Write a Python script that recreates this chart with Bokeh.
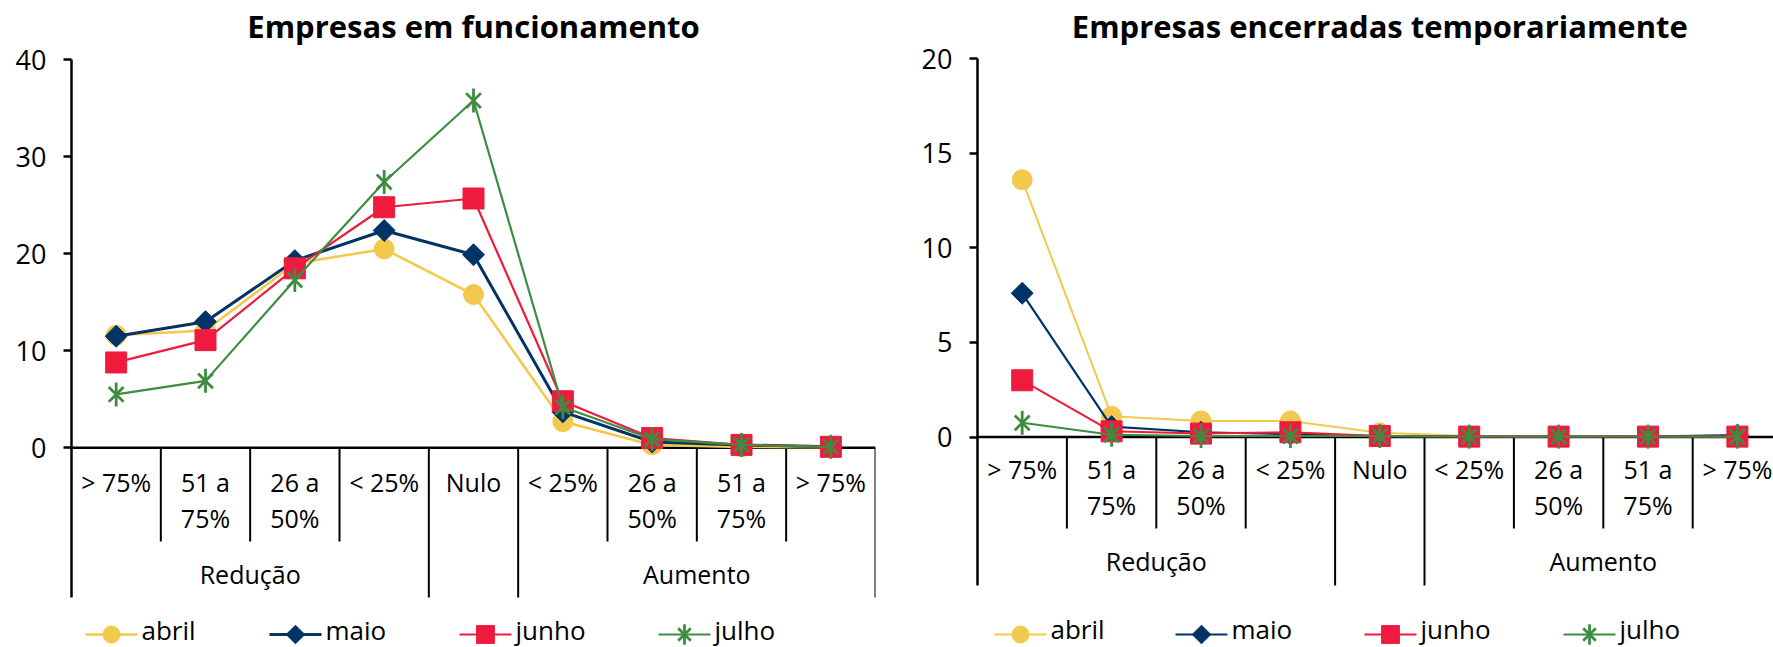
import math

from bokeh.core.properties import value
from bokeh.embed import file_html
from bokeh.layouts import row
from bokeh.models import FixedTicker, Range1d
from bokeh.plotting import figure
from bokeh.resources import INLINE

# ---------------------------------------------------------------- data
cat_line1 = ["> 75%", "51 a", "26 a", "< 25%", "Nulo", "< 25%", "26 a", "51 a", "> 75%"]
cat_line2 = ["", "75%", "50%", "", "", "", "50%", "75%", ""]
group_labels = ["Redução", "", "Aumento"]
group_edges = [0, 4, 5, 9]          # category index where each group starts / ends

months = ["abril", "maio", "junho", "julho"]

# Empresas em funcionamento (%)
func_abril = [11.6, 12.1, 19.0, 20.5, 15.8, 2.7, 0.3, 0.1, 0.05]
func_maio = [11.5, 13.0, 19.3, 22.4, 19.9, 3.7, 0.6, 0.3, 0.1]
func_junho = [8.8, 11.1, 18.5, 24.8, 25.7, 4.8, 1.0, 0.3, 0.1]
func_julho = [5.5, 6.9, 17.3, 27.4, 35.8, 4.2, 0.9, 0.3, 0.1]

# Empresas encerradas temporariamente (%)
enc_abril = [13.6, 1.1, 0.85, 0.85, 0.22, 0.05, 0.02, 0.05, 0.02]
enc_maio = [7.6, 0.55, 0.25, 0.15, 0.05, 0.02, 0.02, 0.02, 0.1]
enc_junho = [3.0, 0.3, 0.18, 0.25, 0.05, 0.02, 0.02, 0.02, 0.02]
enc_julho = [0.75, 0.12, 0.05, 0.05, 0.05, 0.02, 0.02, 0.02, 0.02]

left_ticks = [0, 10, 20, 30, 40]
right_ticks = [0, 5, 10, 15, 20]

# ---------------------------------------------------------------- style
FONT = "Open Sans"
TXT = "#000000"
COLORS = {"abril": "#F2C94C", "maio": "#003366", "junho": "#EE1B3E", "julho": "#3E8C40"}
CANVAS_H = 647
TEXT_LIFT = 14   # glyph text sits this many pixels below its anchor; compensate


def style_for(month, lw):
    return {"color": COLORS[month], "line_width": lw[month]}


def add_markers(p, month, x, y, scale=1.0):
    c = COLORS[month]
    if month == "abril":
        p.scatter(x, y, marker="circle", size=20 * scale, fill_color=c, line_color=c)
    elif month == "maio":
        p.scatter(x, y, marker="square", size=15.5 * scale, angle=math.pi / 4,
                  fill_color=c, line_color=c)
    elif month == "junho":
        p.scatter(x, y, marker="square", size=21 * scale, fill_color=c, line_color=c)
    else:
        p.scatter(x, y, marker="x", size=21 * scale, line_color=c, line_width=2.8)
        p.scatter(x, y, marker="dash", size=24 * scale, angle=math.pi / 2,
                  line_color=c, line_width=2.8)


def make_chart(title, series, ticks, cfg):
    cat_px = cfg["cat_px"]
    zero_px = cfg["zero_px"]
    ppu = (zero_px - cfg["top_px"]) / ticks[-1]

    def py(px):
        return (zero_px - px) / ppu

    def ty(px):
        return py(px - TEXT_LIFT)

    def px_x(px):
        return px / cat_px

    frame_w = cfg["frame_w"]
    p = figure(
        width=cfg["min_left"] + frame_w + cfg["min_right"], height=CANVAS_H,
        frame_width=frame_w, frame_height=CANVAS_H,
        x_range=Range1d(0, frame_w / cat_px), y_range=Range1d(py(CANVAS_H), py(0)),
        x_axis_location=None, output_backend="svg", toolbar_location=None,
        min_border_left=cfg["min_left"], min_border_right=cfg["min_right"],
        min_border_top=0, min_border_bottom=0,
    )
    p.outline_line_color = None
    p.grid.visible = False

    yax = p.yaxis[0]
    yax.ticker = FixedTicker(ticks=ticks)
    yax.bounds = (py(cfg["group_bottom_px"]), ticks[-1])
    yax.axis_line_width = 2.5
    yax.axis_line_color = TXT
    yax.major_tick_line_width = 2.5
    yax.major_tick_line_color = TXT
    yax.major_tick_out = 8
    yax.major_tick_in = 0
    yax.minor_tick_line_color = None
    yax.major_label_standoff = 17
    yax.major_label_text_font = FONT
    yax.major_label_text_font_size = "27px"
    yax.major_label_text_color = TXT

    n = len(cat_line1)
    xs = [i + 0.5 for i in range(n)]

    # category axis: baseline, separators, labels
    p.segment(x0=[0], y0=[0], x1=[n], y1=[0], line_color=TXT, line_width=2.5)
    inner = [i for i in range(1, n) if i not in group_edges]
    p.segment(x0=inner, y0=[0] * len(inner), x1=inner,
              y1=[py(cfg["sep_bottom_px"])] * len(inner), line_color=TXT, line_width=2)
    outer = group_edges[1:]
    p.segment(x0=outer, y0=[0] * len(outer), x1=outer,
              y1=[py(cfg["group_bottom_px"])] * len(outer), line_color=TXT, line_width=2)

    lab = dict(text_font=value(FONT), text_font_size=value("25px"), text_color=TXT,
               text_align="center", text_baseline="alphabetic")
    p.text(x=xs, y=[ty(cfg["row1_px"])] * n, text=cat_line1, **lab)
    p.text(x=xs, y=[ty(cfg["row2_px"])] * n, text=cat_line2, **lab)
    gx = [(a + b) / 2 for a, b in zip(group_edges[:-1], group_edges[1:])]
    p.text(x=gx, y=[ty(cfg["group_px"])] * len(gx), text=group_labels, **lab)

    # title
    p.text(x=[n / 2], y=[ty(cfg["title_px"])], text=[title],
           text_font=value(FONT), text_font_size=value("31px"), text_font_style="bold",
           text_color=TXT, text_align="center", text_baseline="alphabetic")

    # series
    for month in months:
        vals = series[month]
        p.line(xs, vals, **style_for(month, cfg["lw"]))
        add_markers(p, month, xs, vals)

    # legend row beneath the category axis
    ly = py(cfg["legend_mid_px"])
    for month, off in zip(months, cfg["legend_offsets_px"]):
        x0 = px_x(off)
        x1 = px_x(off + 52)
        p.line([x0, x1], [ly, ly], **style_for(month, cfg["lw"]))
        add_markers(p, month, [(x0 + x1) / 2], [ly], scale=0.85)
        p.text(x=[px_x(off + 56)], y=[ty(cfg["legend_base_px"])], text=[month],
               text_font=value(FONT), text_font_size=value("26px"), text_color=TXT,
               text_align="left", text_baseline="alphabetic")
    return p


left_cfg = dict(
    cat_px=804 / 9, frame_w=804, min_left=71, min_right=11,
    zero_px=447.3, top_px=59.3,
    sep_bottom_px=541, group_bottom_px=597,
    row1_px=495, row2_px=531.5, group_px=587, title_px=39.5,
    legend_mid_px=634, legend_base_px=643, legend_offsets_px=[14, 198, 388, 587],
    lw={"abril": 2.6, "maio": 3.0, "junho": 2.2, "julho": 2.2},
)
right_cfg = dict(
    cat_px=89.4, frame_w=796, min_left=91, min_right=0,
    zero_px=436.5, top_px=58.3,
    sep_bottom_px=528, group_bottom_px=585,
    row1_px=482.5, row2_px=518.5, group_px=574, title_px=39.5,
    legend_mid_px=634, legend_base_px=642, legend_offsets_px=[17, 198, 387, 586],
    lw={"abril": 2.0, "maio": 2.2, "junho": 2.0, "julho": 2.0},
)

p_left = make_chart(
    "Empresas em funcionamento",
    {"abril": func_abril, "maio": func_maio, "junho": func_junho, "julho": func_julho},
    left_ticks, left_cfg,
)
p_right = make_chart(
    "Empresas encerradas temporariamente",
    {"abril": enc_abril, "maio": enc_maio, "junho": enc_junho, "julho": enc_julho},
    right_ticks, right_cfg,
)

layout = row(p_left, p_right, spacing=0)
open("out.html", "w").write(file_html(layout, INLINE))
